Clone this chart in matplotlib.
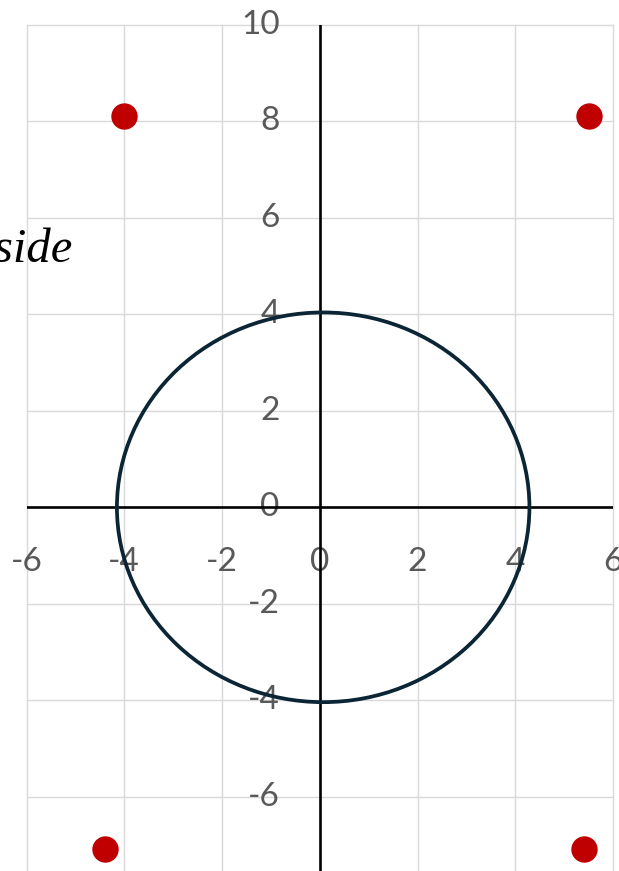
import matplotlib.pyplot as plt
from matplotlib.patches import Ellipse

# dados
x_ticks = [-6, -4, -2, 0, 2, 4, 6]
y_ticks = [10, 8, 6, 4, 2, 0, -2, -4, -6]
x_labels = ['-6', '-4', '-2', '0', '2', '4', '6']
y_labels = ['10', '8', '6', '4', '2', '0', '-2', '-4', '-6']

pts_x = [-4.0, 5.5, -4.4, 5.4]
pts_y = [8.12, 8.12, -7.08, -7.08]

circle_center = (0.07, 0.0)
circle_w = 8.44
circle_h = 8.08

label_text = 'Outside'

fig = plt.figure(figsize=(6.19, 8.71), dpi=100)
ax = fig.add_axes([26.5 / 619, 0, 586.5 / 619, 846 / 871])
ax.set_xlim(-6, 6)
ax.set_ylim(10 - 846 / 48.23, 10)
for s in ax.spines.values():
    s.set_visible(False)
ax.set_xticks([])
ax.set_yticks([])

# grade
for x in x_ticks:
    ax.axvline(x, color='#d9d9d9', lw=1.0, zorder=0, clip_on=False)
for y in y_ticks:
    ax.axhline(y, color='#d9d9d9', lw=1.0, zorder=0, clip_on=False)

# eixos
ax.axhline(0, color='black', lw=1.9, zorder=2)
ax.axvline(0, color='black', lw=1.9, zorder=2)

# rotulos
for x, t in zip(x_ticks, x_labels):
    ax.text(x, -1.14, t, ha='center', va='center', fontsize=24,
            family='Lato', color='#595959', clip_on=False, zorder=1)
for y, t in zip(y_ticks, y_labels):
    ax.text(-0.82, y, t, ha='right', va='center', fontsize=24,
            family='Lato', color='#595959', clip_on=False, zorder=1)

# circulo e pontos
ax.add_patch(Ellipse(circle_center, circle_w, circle_h, fill=False,
                     edgecolor='#0b2535', lw=2.7, zorder=3))
ax.plot(pts_x, pts_y, 'o', color='#c00000', ms=19, mec='none', zorder=4, clip_on=False)

fig.text(73 / 619, 1 - 262 / 871, label_text, ha='right', va='baseline',
         fontsize=35, family='Liberation Serif', style='italic', color='black')

fig.savefig('out.png', dpi=100)
